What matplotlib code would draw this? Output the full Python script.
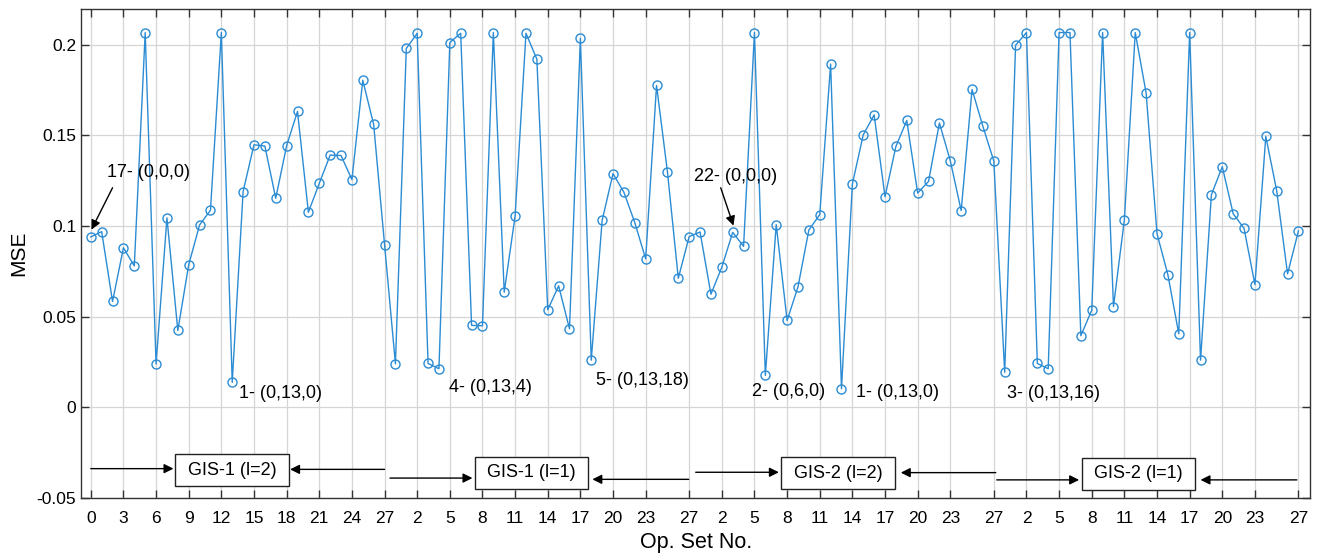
import numpy as np
import matplotlib.pyplot as plt

plt.rcParams['font.family'] = ['Liberation Sans', 'DejaVu Sans']

# MSE per op. set, four groups of 28 sets
gis1_l2 = [0.094, 0.0969, 0.0584, 0.088, 0.078, 0.2067, 0.0239, 0.1045, 0.0424, 0.0786,
           0.1006, 0.1087, 0.2067, 0.0138, 0.119, 0.1448, 0.1441, 0.1153, 0.1443, 0.1632,
           0.1076, 0.1235, 0.1391, 0.1389, 0.1256, 0.1804, 0.156, 0.0898]
gis1_l1 = [0.024, 0.1979, 0.2063, 0.0242, 0.0213, 0.2012, 0.2063, 0.0452, 0.045, 0.2067,
           0.0635, 0.1055, 0.2063, 0.192, 0.0538, 0.067, 0.0433, 0.2035, 0.026, 0.1031,
           0.1289, 0.1186, 0.1019, 0.0819, 0.1775, 0.13, 0.0712, 0.0942]
gis2_l2 = [0.0967, 0.0624, 0.0773, 0.0965, 0.0888, 0.2067, 0.0176, 0.1008, 0.0479, 0.0664,
           0.0978, 0.1063, 0.1893, 0.0103, 0.1232, 0.1503, 0.1613, 0.1162, 0.1439, 0.1582,
           0.1182, 0.1246, 0.1568, 0.136, 0.1085, 0.1753, 0.1549, 0.1358]
gis2_l1 = [0.0193, 0.1997, 0.2067, 0.0242, 0.0213, 0.2067, 0.2067, 0.0395, 0.0536, 0.2067,
           0.0556, 0.1035, 0.2067, 0.1733, 0.0958, 0.0731, 0.0406, 0.2067, 0.026, 0.1173,
           0.1327, 0.1068, 0.0987, 0.0677, 0.1494, 0.1195, 0.0736, 0.0973]

group_names = ['GIS-1 (l=2)', 'GIS-1 (l=1)', 'GIS-2 (l=2)', 'GIS-2 (l=1)']
tick_labels_first = [0, 3, 6, 9, 12, 15, 18, 21, 24, 27]
tick_labels_rest = [2, 5, 8, 11, 14, 17, 20, 23, 27]

# text notes near the minima: (text, x, y)
low_notes = [('1- (0,13,0)', 13.6, 0.0077), ('4- (0,13,4)', 32.9, 0.011),
             ('5- (0,13,18)', 46.4, 0.0149), ('2- (0,6,0)', 60.8, 0.009),
             ('1- (0,13,0)', 70.3, 0.0083), ('3- (0,13,16)', 84.2, 0.0077)]

# group boxes and the arrows pointing at them
box_x = [13.0, 40.5, 68.7, 96.3]
box_y = [-0.0346, -0.036, -0.0363, -0.0367]
right_arrows = [(0, 7.6, -0.0338), (27.5, 35.08, -0.039), (55.6, 63.24, -0.0358), (83.27, 90.84, -0.04)]
left_arrows = [(27.0, 18.32, -0.0342), (54.96, 46.1, -0.0397), (83.18, 74.45, -0.036), (110.85, 102.0, -0.04)]

n = 28
y = np.concatenate([gis1_l2, gis1_l1, gis2_l2, gis2_l1])
x = np.arange(len(y))

ticks, labels = [], []
for g in range(4):
    labs = tick_labels_first if g == 0 else tick_labels_rest
    for t in labs:
        ticks.append(g * n + t)
        labels.append(str(t))

fig = plt.figure(figsize=(13.17, 5.57), dpi=100)
ax = fig.add_axes([0.0615, 0.1059, 0.9335, 0.878])

ax.plot(x, y, '-o', color='#2b8cd4', lw=1.0, ms=6.5, mfc='none', mew=1.0)

ax.set_xlim(-0.9, 112.1)
ax.set_ylim(-0.05, 0.2197)
ax.set_xticks(ticks)
ax.set_xticklabels(labels)
ax.set_yticks([-0.05, 0, 0.05, 0.1, 0.15, 0.2])
ax.set_yticklabels(['-0.05', '0', '0.05', '0.1', '0.15', '0.2'])
ax.tick_params(direction='in', top=True, right=True, length=6, labelsize=12.5, width=1, color='#333333')
ax.tick_params(axis='x', pad=9)
ax.grid(True, color='#d6d6d6', lw=0.9)
for s in ax.spines.values():
    s.set_color('#333333')
    s.set_linewidth(1)

ax.set_xlabel('Op. Set No.', fontsize=15.5, labelpad=5)
ax.set_ylabel('MSE', fontsize=15, labelpad=6)

arr = dict(arrowstyle='-|>', color='k', lw=1, mutation_scale=14, shrinkA=0, shrinkB=0)

ax.text(1.47, 0.1294, '17- (0,0,0)', fontsize=13, va='center', ha='left')
ax.annotate('', xy=(0.06, 0.098), xytext=(2.0, 0.1211), arrowprops=arr)
ax.text(55.4, 0.1272, '22- (0,0,0)', fontsize=13, va='center', ha='left')
ax.annotate('', xy=(59.07, 0.1002), xytext=(57.9, 0.1211), arrowprops=arr)

for txt, xp, yp in low_notes:
    ax.text(xp, yp, txt, fontsize=13, va='center', ha='left')

for g in range(4):
    ax.text(box_x[g], box_y[g], ' ' + group_names[g] + ' ', fontsize=13, ha='center', va='center',
            bbox=dict(boxstyle='square,pad=0.42', fc='white', ec='#222222', lw=1))
    x0, x1, ya = right_arrows[g]
    ax.annotate('', xy=(x1, ya), xytext=(x0, ya), arrowprops=arr)
    x0, x1, ya = left_arrows[g]
    ax.annotate('', xy=(x1, ya), xytext=(x0, ya), arrowprops=arr)

fig.savefig('out.png', dpi=100)
